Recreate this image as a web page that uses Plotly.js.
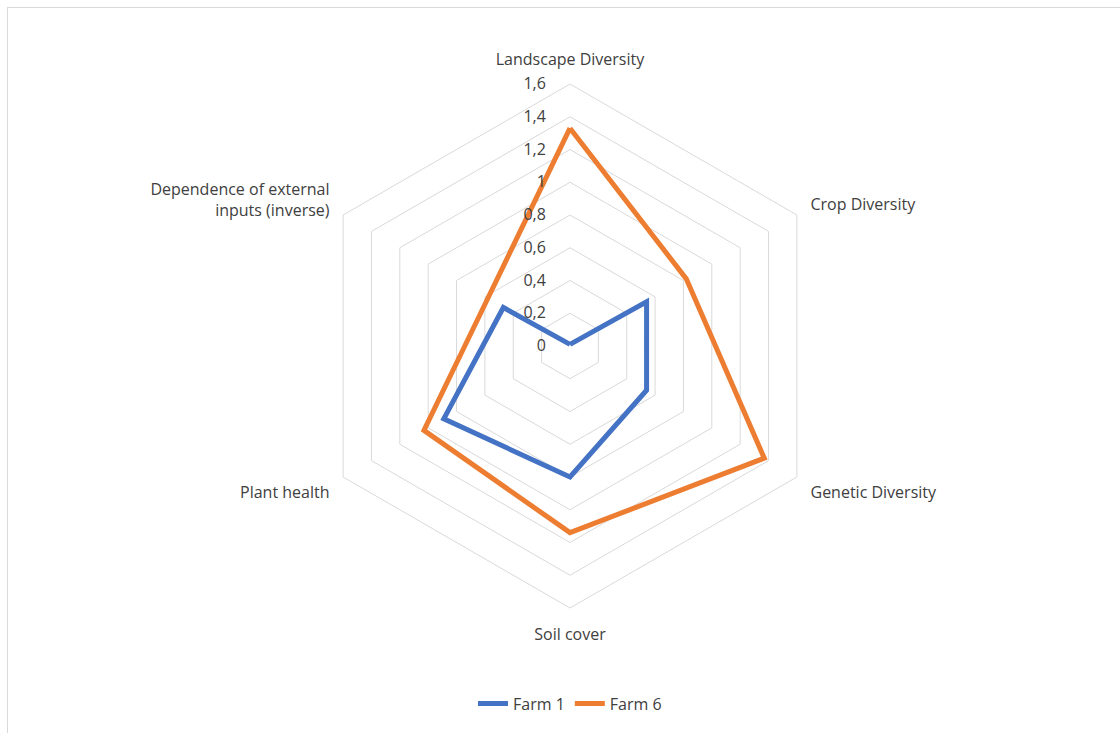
<!DOCTYPE html>
<html>
<head>
<meta charset="utf-8">
<script src="https://cdn.plot.ly/plotly-3.0.1.min.js"></script>
<style>
html,body{margin:0;padding:0;background:#fff;}
#frame{position:absolute;left:7px;top:7px;width:1130px;height:740px;border:1px solid #d9d9d9;box-sizing:border-box;}
#chart{position:absolute;left:0;top:0;width:1120px;height:733px;}
</style>
</head>
<body>
<div id="frame"></div>
<div id="chart"></div>
<script>
const categories = ["Landscape Diversity", "Crop Diversity", "Genetic Diversity", "Soil cover", "Plant health", "Dependence of external<br>inputs (inverse)"];
const farm1 = [0.01, 0.54, 0.54, 0.80, 0.89, 0.47];
const farm6 = [1.33, 0.82, 1.37, 1.14, 1.03, 0.58];
const tickVals = [0, 0.2, 0.4, 0.6, 0.8, 1, 1.2, 1.4, 1.6];
const tickText = ["0", "0,2", "0,4", "0,6", "0,8", "1", "1,2", "1,4", "1,6"];

function closed(a){ return a.concat([a[0]]); }

const traces = [
  {type:'scatterpolar', mode:'lines', name:'Farm 1', r:closed(farm1), theta:closed(categories),
   line:{color:'#4472C4', width:5}},
  {type:'scatterpolar', mode:'lines', name:'Farm 6', r:closed(farm6), theta:closed(categories),
   line:{color:'#ED7D31', width:5}}
];

const layout = {
  width:1120, height:733,
  margin:{l:307, r:287, t:84, b:123},
  paper_bgcolor:'rgba(0,0,0,0)', plot_bgcolor:'rgba(0,0,0,0)',
  font:{family:'"Open Sans", sans-serif', size:16, color:'#404040'},
  showlegend:true,
  legend:{orientation:'h', x:0.5, xanchor:'center', y:-0.15, yanchor:'top', font:{size:16, color:'#404040'}},
  polar:{
    bgcolor:'rgba(0,0,0,0)',
    gridshape:'linear',
    radialaxis:{range:[0,1.6], tickvals:tickVals, ticktext:tickText, angle:90, tickangle:90,
      showline:false, ticks:'outside', ticklen:18, tickcolor:'rgba(0,0,0,0)', gridcolor:'#d9d9d9', gridwidth:1, side:'counterclockwise',
      tickfont:{size:16, color:'#404040'}},
    angularaxis:{rotation:90, direction:'clockwise', showgrid:false, showline:true,
      linecolor:'#d9d9d9', linewidth:1, ticks:'outside', ticklen:12, tickcolor:'rgba(0,0,0,0)',
      tickfont:{size:16, color:'#404040'}}
  }
};

Plotly.newPlot('chart', traces, layout, {displayModeBar:false, staticPlot:true});
</script>
</body>
</html>
